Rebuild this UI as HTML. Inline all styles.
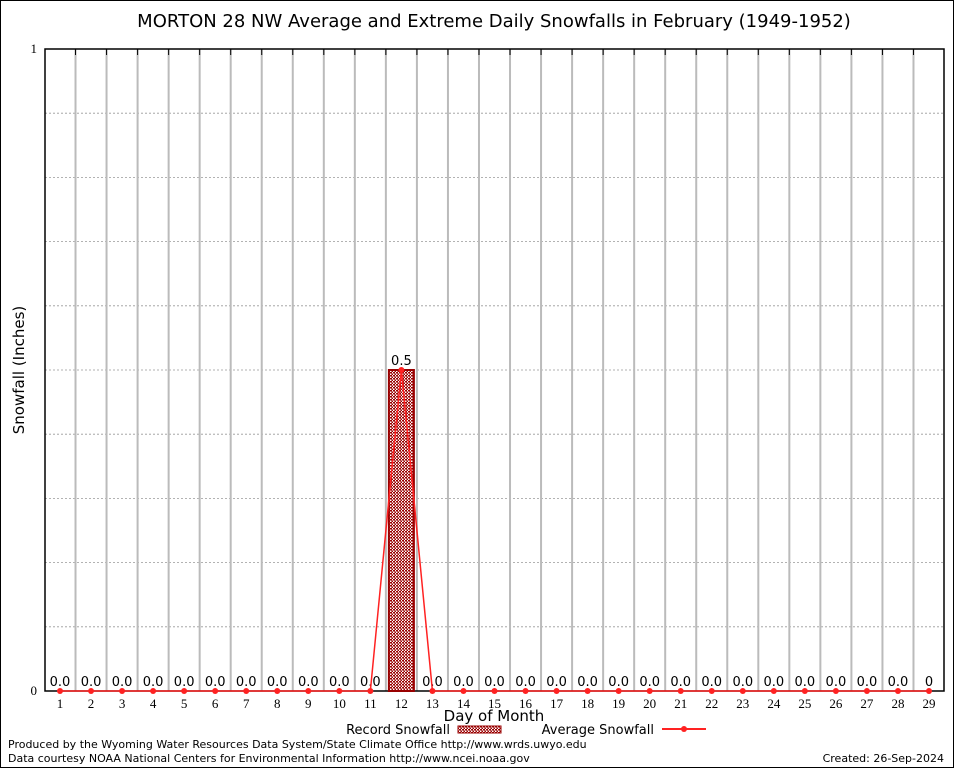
<!DOCTYPE html>
<html><head><meta charset="utf-8"><style>
body{margin:0;background:#fff;}
svg text{font-family:"DejaVu Sans","Liberation Sans",sans-serif;}
svg text.serif{font-family:"Liberation Serif",serif;font-size:13px;}
</style></head><body>
<svg width="954" height="768" xmlns="http://www.w3.org/2000/svg">
<defs><pattern id="hatch" width="3" height="3" patternUnits="userSpaceOnUse"><rect width="3" height="3" fill="#fff"/><rect width="2" height="1.5" fill="#900"/><rect x="1.5" y="1.5" width="2" height="1.5" fill="#900"/></pattern></defs>
<rect x="0.5" y="0.5" width="953" height="767" fill="#fff" stroke="#000"/>
<text x="494" y="27" font-size="18" text-anchor="middle">MORTON 28 NW Average and Extreme Daily Snowfalls in February (1949-1952)</text>
<g id="grid"></g>
<g id="marks"></g>
<text x="24" y="370" font-size="15" text-anchor="middle" transform="rotate(-90 24 370)">Snowfall (Inches)</text>
<text x="494" y="721" font-size="15" text-anchor="middle">Day of Month</text>
<g>
<text x="450" y="734" font-size="13" text-anchor="end">Record Snowfall</text>
<rect x="458" y="726" width="43" height="7" fill="url(#hatch)" stroke="#900"/>
<text x="654" y="734" font-size="13" text-anchor="end">Average Snowfall</text>
<line x1="662" y1="729" x2="706" y2="729" stroke="#f22" stroke-width="2"/>
<circle cx="684" cy="729" r="3" fill="#f22"/>
</g>
<text x="8" y="748" font-size="11">Produced by the Wyoming Water Resources Data System/State Climate Office http://www.wrds.uwyo.edu</text>
<text x="8" y="762" font-size="11">Data courtesy NOAA National Centers for Environmental Information http://www.ncei.noaa.gov</text>
<text x="944" y="762" font-size="11" text-anchor="end">Created: 26-Sep-2024</text>
</svg>
<script>
const days=[1,2,3,4,5,6,7,8,9,10,11,12,13,14,15,16,17,18,19,20,21,22,23,24,25,26,27,28,29];
const recordValues=[0,0,0,0,0,0,0,0,0,0,0,0.5,0,0,0,0,0,0,0,0,0,0,0,0,0,0,0,0,0];
const averageValues=[0,0,0,0,0,0,0,0,0,0,0,0.5,0,0,0,0,0,0,0,0,0,0,0,0,0,0,0,0,0];
const recordLabels=["0.0","0.0","0.0","0.0","0.0","0.0","0.0","0.0","0.0","0.0","0.0","0.5","0.0","0.0","0.0","0.0","0.0","0.0","0.0","0.0","0.0","0.0","0.0","0.0","0.0","0.0","0.0","0.0","0"];
const yTicks=[0,1];
const NS="http://www.w3.org/2000/svg";
const L=45,R=944,T=49,B=691,yMax=1;
const xs=d=>60+(d-1)*(929-60)/28;
const ys=v=>B-(v/yMax)*(B-T);
function mk(tag,attrs,parent){const e=document.createElementNS(NS,tag);for(const k in attrs)e.setAttribute(k,attrs[k]);parent.appendChild(e);return e;}
const g=document.getElementById('grid'),m=document.getElementById('marks');
for(let i=1;i<10;i++){const l=mk('line',{x1:L,x2:R,y1:ys(i/10),y2:ys(i/10),stroke:'#999','stroke-dasharray':'2,2','stroke-width':0.8},g);

}
for(let d=1;d<29;d++){const x=xs(d+0.5);const l=mk('line',{x1:x,x2:x,y1:T,y2:B,stroke:'#bbb','stroke-width':2},g);


const t=mk('line',{x1:x,x2:x,y1:T,y2:T+6,stroke:'#000'},g);

}
const frame=mk('rect',{x:L,y:T,width:R-L,height:B-T,fill:'none',stroke:'#000','stroke-width':1.5},g);


yTicks.forEach(v=>{const t=mk('text',{x:L-8,y:ys(v)+4,'text-anchor':'end','class':'serif'},g);t.textContent=v;

});
days.forEach((d,i)=>{const t=mk('text',{x:xs(d),y:708,'text-anchor':'middle','class':'serif'},g);t.textContent=d;


if(recordValues[i]>0){const b=mk('rect',{x:xs(d)-12.5,y:ys(recordValues[i]),width:25,height:B-ys(recordValues[i]),fill:'url(#hatch)',stroke:'#900','stroke-width':2},m);

}
const lb=mk('text',{x:xs(d),y:ys(recordValues[i])-5,'font-size':13,'text-anchor':'middle'},m);lb.textContent=recordLabels[i];

});
const pl=mk('polyline',{points:days.map((d,i)=>xs(d)+','+ys(averageValues[i])).join(' '),fill:'none',stroke:'#f22','stroke-width':1.5},m);


days.forEach((d,i)=>{const c=mk('circle',{cx:xs(d),cy:ys(averageValues[i]),r:3,fill:'#f22'},m);

});
</script>
</body></html>
